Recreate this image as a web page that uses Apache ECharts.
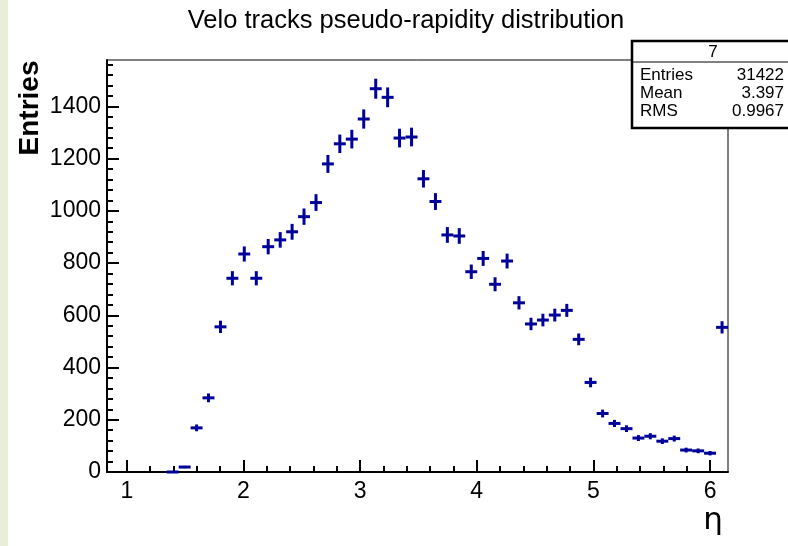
<!DOCTYPE html>
<html>
<head>
<meta charset="utf-8">
<script src="https://cdn.jsdelivr.net/npm/echarts@6/dist/echarts.min.js"></script>
<style>
  html, body { margin: 0; padding: 0; background: #ffffff; }
  #chart { width: 788px; height: 546px; }
</style>
</head>
<body>
<div id="chart"></div>
<script>
const chartTitle = 'Velo tracks pseudo-rapidity distribution';
const xAxisName = 'η';
const yAxisName = 'Entries';

// bin centres (eta) of the filled bins
const etaCenters = [
  1.393, 1.496, 1.598, 1.700, 1.803, 1.905, 2.007, 2.110, 2.212, 2.315,
  2.417, 2.519, 2.622, 2.724, 2.826, 2.929, 3.031, 3.134, 3.236, 3.338,
  3.441, 3.543, 3.646, 3.748, 3.850, 3.953, 4.055, 4.157, 4.260, 4.362,
  4.465, 4.567, 4.669, 4.772, 4.874, 4.976, 5.079, 5.181, 5.284, 5.386,
  5.488, 5.591, 5.693, 5.795, 5.898, 6.000, 6.103
];
// bin contents
const entries = [
  0, 19, 169, 284, 556, 742, 835, 742, 863, 889,
  920, 978, 1032, 1180, 1257, 1275, 1352, 1468, 1435, 1279,
  1283, 1123, 1036, 908, 904, 767, 818, 719, 808, 648,
  567, 582, 601, 619, 508, 343, 224, 186, 166, 130,
  137, 118, 128, 84, 81, 72, 554
];

const xMajorTicks = [1, 2, 3, 4, 5, 6];
const xMinorTicks = [1.2, 1.4, 1.6, 1.8, 2.2, 2.4, 2.6, 2.8, 3.2, 3.4, 3.6, 3.8,
                     4.2, 4.4, 4.6, 4.8, 5.2, 5.4, 5.6, 5.8];
const yMajorTicks = [0, 200, 400, 600, 800, 1000, 1200, 1400];
const yMinorTicks = [40, 80, 120, 160, 240, 280, 320, 360, 440, 480, 520, 560,
                     640, 680, 720, 760, 840, 880, 920, 960, 1040, 1080, 1120, 1160,
                     1240, 1280, 1320, 1360, 1440, 1480, 1520, 1560];

const statsTitle = '7';
const statsLabels = ['Entries', 'Mean', 'RMS'];
const statsValues = ['31422', '3.397', '0.9967'];

const X_MIN = 0.83, X_MAX = 6.154, Y_MAX = 1578;
const BIN_WIDTH = 0.10238;
const MARK_COLOR = '#00009a';
const FONT = "'Liberation Sans', Arial, Helvetica, sans-serif";

const chart = echarts.init(document.getElementById('chart'), null, { renderer: 'canvas' });

const seriesData = etaCenters.map((x, i) => [x, entries[i]]);

const baseX = {
  type: 'value', min: X_MIN, max: X_MAX, position: 'bottom',
  splitLine: { show: false }
};
const baseY = {
  type: 'value', min: 0, max: Y_MAX, position: 'left',
  splitLine: { show: false }
};
const plain = v => String(v);

const option = {
  animation: false,
  backgroundColor: '#ffffff',
  grid: {
    left: 107, right: 60, top: 60, bottom: 74,
    show: true, borderColor: '#000', borderWidth: 1, backgroundColor: 'transparent'
  },
  xAxis: [
    Object.assign({}, baseX, {
      axisLine: { show: true, onZero: false, lineStyle: { color: '#000', width: 2 } },
      axisTick: { show: true, inside: true, length: 12, customValues: xMajorTicks,
                  lineStyle: { color: '#000', width: 2 } },
      axisLabel: { show: true, customValues: xMajorTicks, margin: 8, formatter: plain,
                   color: '#000', fontSize: 23, fontFamily: FONT }
    }),
    Object.assign({}, baseX, {
      axisLine: { show: false },
      axisTick: { show: true, inside: true, length: 6, customValues: xMinorTicks,
                  lineStyle: { color: '#000', width: 2 } },
      axisLabel: { show: false }
    })
  ],
  yAxis: [
    Object.assign({}, baseY, {
      axisLine: { show: true, onZero: false, lineStyle: { color: '#000', width: 2 } },
      axisTick: { show: true, inside: true, length: 12, customValues: yMajorTicks,
                  lineStyle: { color: '#000', width: 2 } },
      axisLabel: { show: true, customValues: yMajorTicks, margin: 6, formatter: plain,
                   color: '#000', fontSize: 23, fontFamily: FONT }
    }),
    Object.assign({}, baseY, {
      axisLine: { show: false },
      axisTick: { show: true, inside: true, length: 6, customValues: yMinorTicks,
                  lineStyle: { color: '#000', width: 2 } },
      axisLabel: { show: false }
    })
  ],
  series: [{
    type: 'custom',
    xAxisIndex: 0, yAxisIndex: 0,
    clip: false,
    data: seriesData,
    renderItem: function (params, api) {
      const x = api.value(0), y = api.value(1);
      const c = api.coord([x, y]);
      const l = api.coord([x - BIN_WIDTH / 2, y])[0];
      const r = api.coord([x + BIN_WIDTH / 2, y])[0];
      const err = Math.sqrt(y);
      const t = api.coord([x, y + err])[1];
      const b = api.coord([x, y - err])[1];
      const style = { stroke: MARK_COLOR, lineWidth: 3, lineCap: 'butt' };
      return {
        type: 'group',
        children: [
          { type: 'line', shape: { x1: l, y1: c[1], x2: r, y2: c[1] }, style: style },
          { type: 'line', shape: { x1: c[0], y1: t, x2: c[0], y2: b }, style: style }
        ]
      };
    }
  }],
  graphic: [
    { type: 'rect', left: 0, top: 0, shape: { x: 0, y: 0, width: 8, height: 546 },
      style: { fill: '#e8eed9' }, silent: true },
    { type: 'text', x: 406, y: 21,
      style: { text: chartTitle, font: '25.5px ' + FONT, fill: '#000',
               textAlign: 'center', textVerticalAlign: 'middle' } },
    { type: 'text', x: 30, y: 108, rotation: Math.PI / 2,
      style: { text: yAxisName, font: 'bold 28px ' + FONT, fill: '#000',
               textAlign: 'center', textVerticalAlign: 'middle' } },
    { type: 'text', x: 723, y: 521,
      style: { text: xAxisName, font: '31px ' + "'DejaVu Sans', 'Liberation Sans', sans-serif", fill: '#000',
               textAlign: 'right', textVerticalAlign: 'middle' } },
    // statistics box
    { type: 'rect', z: 100, shape: { x: 632, y: 41, width: 170, height: 87 },
      style: { fill: '#fff', stroke: '#000', lineWidth: 2.5 } },
    { type: 'line', z: 101, shape: { x1: 632, y1: 62, x2: 788, y2: 62 },
      style: { stroke: '#000', lineWidth: 1 } },
    { type: 'text', z: 102, x: 713, y: 52,
      style: { text: statsTitle, font: '17px ' + FONT, fill: '#000',
               textAlign: 'center', textVerticalAlign: 'middle' } },
    { type: 'text', z: 102, x: 640, y: 75,
      style: { text: statsLabels[0], font: '17px ' + FONT, fill: '#000', textVerticalAlign: 'middle' } },
    { type: 'text', z: 102, x: 640, y: 93,
      style: { text: statsLabels[1], font: '17px ' + FONT, fill: '#000', textVerticalAlign: 'middle' } },
    { type: 'text', z: 102, x: 640, y: 111,
      style: { text: statsLabels[2], font: '17px ' + FONT, fill: '#000', textVerticalAlign: 'middle' } },
    { type: 'text', z: 102, x: 784, y: 75,
      style: { text: statsValues[0], font: '17px ' + FONT, fill: '#000', textAlign: 'right', textVerticalAlign: 'middle' } },
    { type: 'text', z: 102, x: 784, y: 93,
      style: { text: statsValues[1], font: '17px ' + FONT, fill: '#000', textAlign: 'right', textVerticalAlign: 'middle' } },
    { type: 'text', z: 102, x: 784, y: 111,
      style: { text: statsValues[2], font: '17px ' + FONT, fill: '#000', textAlign: 'right', textVerticalAlign: 'middle' } }
  ]
};

chart.setOption(option);
</script>
</body>
</html>
